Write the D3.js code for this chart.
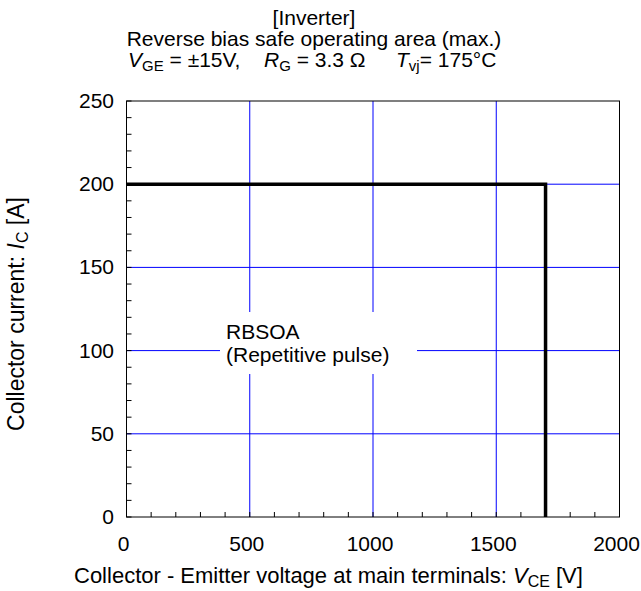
<!DOCTYPE html>
<html>
<head>
<meta charset="utf-8">
<script src="https://cdn.jsdelivr.net/npm/d3@7"></script>
<style>
  body { margin: 0; background: #fff; }
  text { font-family: "Liberation Sans", Arial, sans-serif; fill: #000; }
</style>
</head>
<body>
<div id="chart"></div>
<script>
// RBSOA boundary (max.)
const vce = [0, 1700, 1700];
const ic = [200, 200, 0];

const xTicks = [0, 500, 1000, 1500, 2000];
const yTicks = [0, 50, 100, 150, 200, 250];
const xMinor = d3.range(0, 2001, 100);
const yMinor = d3.range(0, 251, 10);

const width = 641, height = 591;
const fs = 21;

const svg = d3.select("#chart")
  .append("svg")
  .attr("width", width)
  .attr("height", height);

const x = d3.scaleLinear().domain([0, 2000]).range([126.5, 619.5]);
const y = d3.scaleLinear().domain([0, 250]).range([517, 101]);

// grid
svg.append("g")
  .selectAll("line")
  .data(xTicks.slice(1, -1))
  .join("line")
  .attr("x1", d => x(d)).attr("x2", d => x(d))
  .attr("y1", y(250)).attr("y2", y(0))
  .attr("stroke", "#0000ff").attr("stroke-width", 1);

svg.append("g")
  .selectAll("line")
  .data(yTicks.slice(1, -1))
  .join("line")
  .attr("x1", x(0)).attr("x2", x(2000))
  .attr("y1", d => y(d)).attr("y2", d => y(d))
  .attr("stroke", "#0000ff").attr("stroke-width", 1);

// minor ticks inside
svg.append("g")
  .selectAll("line")
  .data(xMinor)
  .join("line")
  .attr("x1", d => x(d)).attr("x2", d => x(d))
  .attr("y1", y(0)).attr("y2", y(0) - 5)
  .attr("stroke", "#000");

svg.append("g")
  .selectAll("line")
  .data(yMinor)
  .join("line")
  .attr("x1", x(0)).attr("x2", x(0) + 5)
  .attr("y1", d => y(d)).attr("y2", d => y(d))
  .attr("stroke", "#000");

// frame
svg.append("rect")
  .attr("x", x(0)).attr("y", y(250))
  .attr("width", x(2000) - x(0)).attr("height", y(0) - y(250))
  .attr("fill", "none").attr("stroke", "#000").attr("stroke-width", 1);

// label box
svg.append("rect")
  .attr("x", 220).attr("y", 312)
  .attr("width", 197).attr("height", 62)
  .attr("fill", "#fff");

const lbl = svg.append("text").attr("font-size", fs);
lbl.append("tspan").attr("x", 226).attr("y", 339).text("RBSOA");
lbl.append("tspan").attr("x", 226).attr("y", 362).text("(Repetitive pulse)");

// RBSOA line
const line = d3.line().x((d, i) => x(vce[i])).y(d => y(d));
svg.append("path")
  .datum(ic)
  .attr("d", line)
  .attr("fill", "none")
  .attr("stroke", "#000")
  .attr("stroke-width", 3.5)
  .attr("stroke-linejoin", "miter");

// tick labels
svg.append("g")
  .selectAll("text")
  .data(yTicks)
  .join("text")
  .attr("x", 114).attr("y", d => y(d) + 7)
  .attr("text-anchor", "end")
  .attr("font-size", fs)
  .text(d => d);

svg.append("g")
  .selectAll("text")
  .data(xTicks)
  .join("text")
  .attr("x", d => x(d) - 3).attr("y", 551)
  .attr("text-anchor", "middle")
  .attr("font-size", fs)
  .text(d => d);

// axis titles
const xt = svg.append("text").attr("x", 74).attr("y", 583).attr("font-size", 22);
xt.append("tspan").text("Collector - Emitter voltage at main terminals:  ");
xt.append("tspan").attr("font-style", "italic").text("V");
xt.append("tspan").attr("font-size", 16).attr("dy", 4).text("CE");
xt.append("tspan").attr("dy", -4).text(" [V]");

const yt = svg.append("text")
  .attr("transform", "translate(24,314) rotate(-90)")
  .attr("text-anchor", "middle")
  .attr("font-size", 23);
yt.append("tspan").text("Collector current: ");
yt.append("tspan").attr("font-style", "italic").text("I");
yt.append("tspan").attr("font-size", 16).attr("dy", 4).text("C");
yt.append("tspan").attr("dy", -4).text(" [A]");

// title
svg.append("text").attr("x", 314).attr("y", 25).attr("text-anchor", "middle")
  .attr("font-size", fs).text("[Inverter]");
svg.append("text").attr("x", 314).attr("y", 46).attr("text-anchor", "middle")
  .attr("font-size", fs).text("Reverse bias safe operating area (max.)");

function cond(x0, sym, sub, rest) {
  const t = svg.append("text").attr("x", x0).attr("y", 67).attr("font-size", fs);
  t.append("tspan").attr("font-style", "italic").text(sym);
  t.append("tspan").attr("font-size", 15).attr("dy", 4).text(sub);
  t.append("tspan").attr("dy", -4).text(rest);
}
cond(128, "V", "GE", " = ±15V,");
cond(264, "R", "G", " = 3.3 Ω");
cond(396, "T", "vj", "= 175°C");
</script>
</body>
</html>
